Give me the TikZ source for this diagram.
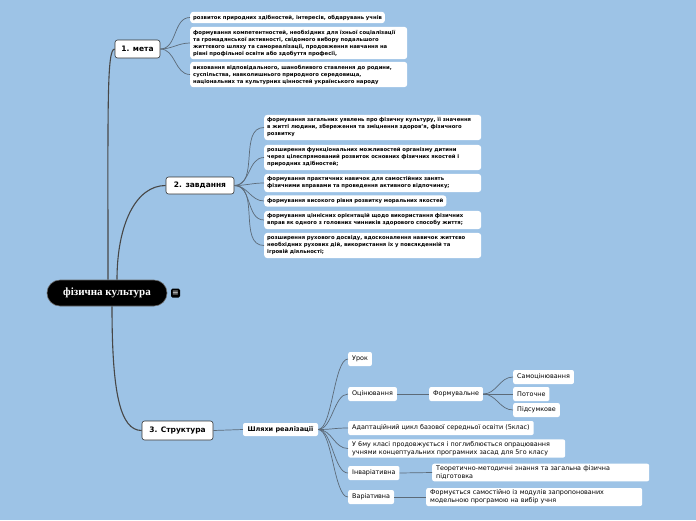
\documentclass[tikz,border=0pt]{standalone}
\usepackage{fontspec}
\setmainfont{DejaVu Sans}
\newfontfamily\rootfont{Liberation Serif}

\definecolor{sky}{RGB}{157,195,230}
\definecolor{linkgray}{RGB}{92,106,120}

\begin{document}
\begin{tikzpicture}[x=1pt, y=-1pt,
    trunk/.style={draw=black!72, line width=1.1pt},
    twig/.style={draw=linkgray, line width=0.7pt},
    topic/.style={fill=white, draw=black!80, line width=0.6pt, rounded corners=2.5pt,
        font=\fontsize{7.5}{9}\selectfont\bfseries, inner xsep=5pt, inner ysep=0pt},
    leaf/.style={fill=white, rounded corners=3pt, anchor=west, align=left,
        inner sep=3pt, font=\fontsize{5.3}{7}\selectfont\bfseries},
    item/.style={fill=white, rounded corners=2pt, anchor=west, align=left,
        inner xsep=4pt, inner ysep=2pt, minimum height=14pt, font=\fontsize{6.4}{7.8}\selectfont}]
    \fill[sky] (0,0) rectangle (696,520);
    \useasboundingbox (0,0) rectangle (696,520);

    % Root and its note icon
    \node[fill=black, draw=black!60, line width=0.6pt, rounded corners=13pt,
        minimum width=120pt, minimum height=26pt, text=white,
        font=\rootfont\fontsize{11}{12}\selectfont\bfseries] (root) at (107,293) {фізична культура};
    \node[fill=black, rounded corners=1.5pt, minimum size=9pt, inner sep=0pt, text=white,
        font=\fontsize{8}{8}\selectfont] (notes) at (175.5,293) {≡};

    % Branch topics
    \node[topic, minimum width=45pt, minimum height=18pt] (meta) at (137.5,49) {1. мета};
    \node[topic, minimum width=68pt, minimum height=17pt] (zavd) at (200,185.5) {2. завдання};
    \node[topic, minimum width=71pt, minimum height=19pt] (strukt) at (177.5,430.5) {3. Структура};

    \draw[trunk] ([xshift=1pt]root.north) .. controls +(0,-175) and +(-8,0) .. (meta.west);
    \draw[trunk] ([xshift=10pt]root.north) .. controls +(0,-55) and +(-30,0) .. (zavd.west);
    \draw[trunk] ([xshift=5pt]root.south) .. controls +(0,85) and +(-22,0) .. (strukt.west);

    % 1. мета
    \node[leaf] (c1) at (190,17.5) {розвиток природних здібностей, інтересів, обдарувань учнів};
    \node[leaf, text width=211pt] (c2) at (190,43) {формування компетентностей, необхідних для їхньої соціалізації\\
        та громадянської активності, свідомого вибору подальшого\\
        життєвого шляху та самореалізації, продовження навчання на\\
        рівні профільної освіти або здобуття професії,};
    \node[leaf, text width=211pt] (c3) at (190,74.5) {виховання відповідального, шанобливого ставлення до родини,\\
        суспільства, навколишнього природного середовища,\\
        національних та культурних цінностей українського народу};
    \draw[twig] (meta.east) to[out=0, in=180] (c1.west);
    \draw[twig] (meta.east) to[out=0, in=180] (c2.west);
    \draw[twig] (meta.east) to[out=0, in=180] (c3.west);

    % 2. завдання
    \node[leaf, text width=211pt] (t1) at (264,127.5) {формування загальних уявлень про фізичну культуру, її значення\\
        в житті людини, збереження та зміцнення здоров’я, фізичного\\
        розвитку};
    \node[leaf, text width=211pt] (t2) at (264,157.5) {розширення функціональних можливостей організму дитини\\
        через цілеспрямований розвиток основних фізичних якостей і\\
        природних здібностей;};
    \node[leaf, text width=211pt] (t3) at (264,183) {формування практичних навичок для самостійних занять\\
        фізичними вправами та проведення активного відпочинку;};
    \node[leaf] (t4) at (264,201) {формування високого рівня розвитку моральних якостей};
    \node[leaf, text width=211pt] (t5) at (264,220) {формування ціннісних орієнтацій щодо використання фізичних\\
        вправ як одного з головних чинників здорового способу життя;};
    \node[leaf, text width=211pt] (t6) at (264,245.5) {розширення рухового досвіду, вдосконалення навичок життєво\\
        необхідних рухових дій, використання їх у повсякденній та\\
        ігровій діяльності;};
    \draw[twig] (zavd.east) to[out=0, in=180] (t1.west);
    \draw[twig] (zavd.east) to[out=0, in=180] (t2.west);
    \draw[twig] (zavd.east) to[out=0, in=180] (t3.west);
    \draw[twig] (zavd.east) to[out=0, in=180] (t4.west);
    \draw[twig] (zavd.east) to[out=0, in=180] (t5.west);
    \draw[twig] (zavd.east) to[out=0, in=180] (t6.west);

    % 3. Структура
    \node[fill=white, rounded corners=2pt, minimum width=75pt, minimum height=13pt, inner sep=0pt,
        font=\fontsize{6.5}{8}\selectfont\bfseries] (shliakhy) at (280.5,429.5) {Шляхи реалізації};
    \draw[twig] (strukt.east) -- (shliakhy.west);

    \node[item] (urok) at (348,359) {Урок};
    \node[item] (ocin) at (348,394) {Оцінювання};
    \node[item] (formuv) at (429,394) {Формувальне};
    \node[item] (samo) at (513,377) {Самоцінювання};
    \node[item] (potoch) at (513,394) {Поточне};
    \node[item] (pidsum) at (513,410) {Підсумкове};
    \node[item] (adapt) at (348,428) {Адаптаційний цикл базової середньої освіти (5клас)};
    \node[item, text width=209pt] (klas6) at (348,448.5) {У 6му класі продовжується і поглиблюється опрацювання\\
        учнями концептуальних програмних засад для 5го класу};
    \node[item] (inv) at (348,473) {Інваріативна};
    \node[item, text width=209pt] (teor) at (432,472.5) {Теоретично-методичні знання та загальна фізична\\
        підготовка};
    \node[item] (var) at (348,497) {Варіативна};
    \node[item, text width=208pt] (formuet) at (426,497) {Формується самостійно із модулів запропонованих\\
        модельною програмою на вибір учня};

    \draw[twig] (shliakhy.east) .. controls +(14,0) and +(-14,0) .. (urok.west);
    \draw[twig] (shliakhy.east) .. controls +(14,0) and +(-14,0) .. (ocin.west);
    \draw[twig] (shliakhy.east) .. controls +(14,0) and +(-14,0) .. (adapt.west);
    \draw[twig] (shliakhy.east) .. controls +(14,0) and +(-14,0) .. (klas6.west);
    \draw[twig] (shliakhy.east) .. controls +(14,0) and +(-14,0) .. (inv.west);
    \draw[twig] (shliakhy.east) .. controls +(14,0) and +(-14,0) .. (var.west);
    \draw[twig] (ocin.east) -- (formuv.west);
    \draw[twig] (formuv.east) to[out=0, in=180] (samo.west);
    \draw[twig] (formuv.east) -- (potoch.west);
    \draw[twig] (formuv.east) to[out=0, in=180] (pidsum.west);
    \draw[twig] (inv.east) -- (teor.west);
    \draw[twig] (var.east) -- (formuet.west);
\end{tikzpicture}
\end{document}
